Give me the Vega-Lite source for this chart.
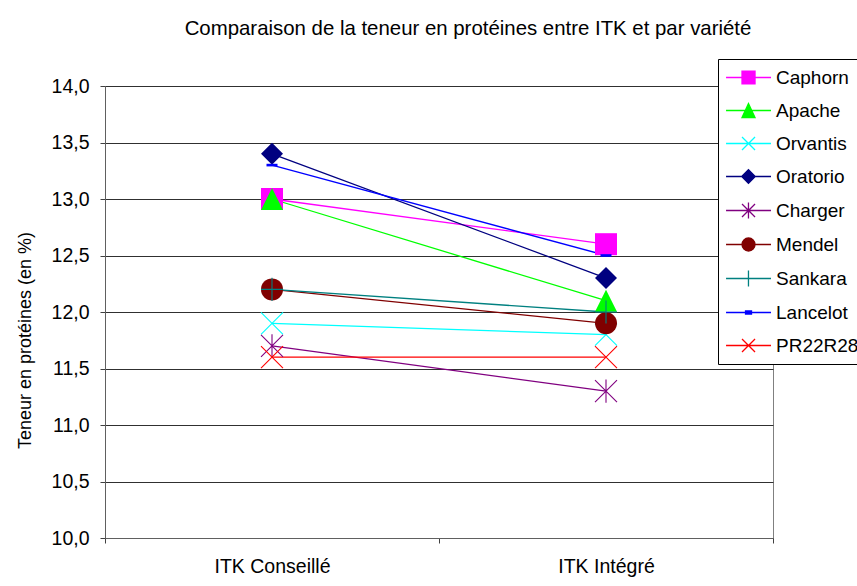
{
  "$schema": "https://vega.github.io/schema/vega-lite/v6.json",
  "width": 668,
  "height": 452,
  "autosize": {"type": "none"},
  "padding": {"left": 105, "top": 86, "right": 84, "bottom": 48},
  "background": "white",
  "title": {
    "text": "Comparaison de la teneur en protéines entre ITK et par variété",
    "font": "Liberation Sans",
    "fontSize": 20.4,
    "fontWeight": "normal",
    "color": "black",
    "anchor": "middle",
    "dx": 29,
    "offset": 19
  },
  "config": {
    "view": {"stroke": "#808080", "strokeWidth": 1},
    "font": "Liberation Sans"
  },
  "data": {
    "values": [
      {"variety": "Caphorn", "itk": "ITK Conseillé", "value": 13.0},
      {"variety": "Caphorn", "itk": "ITK Intégré", "value": 12.6},
      {"variety": "Apache", "itk": "ITK Conseillé", "value": 13.0},
      {"variety": "Apache", "itk": "ITK Intégré", "value": 12.1},
      {"variety": "Orvantis", "itk": "ITK Conseillé", "value": 11.9},
      {"variety": "Orvantis", "itk": "ITK Intégré", "value": 11.8},
      {"variety": "Oratorio", "itk": "ITK Conseillé", "value": 13.4},
      {"variety": "Oratorio", "itk": "ITK Intégré", "value": 12.3},
      {"variety": "Charger", "itk": "ITK Conseillé", "value": 11.7},
      {"variety": "Charger", "itk": "ITK Intégré", "value": 11.3},
      {"variety": "Mendel", "itk": "ITK Conseillé", "value": 12.2},
      {"variety": "Mendel", "itk": "ITK Intégré", "value": 11.9},
      {"variety": "Sankara", "itk": "ITK Conseillé", "value": 12.2},
      {"variety": "Sankara", "itk": "ITK Intégré", "value": 12.0},
      {"variety": "Lancelot", "itk": "ITK Conseillé", "value": 13.3},
      {"variety": "Lancelot", "itk": "ITK Intégré", "value": 12.5},
      {"variety": "PR22R28", "itk": "ITK Conseillé", "value": 11.6},
      {"variety": "PR22R28", "itk": "ITK Intégré", "value": 11.6}
    ]
  },
  "encoding": {
    "x": {
      "field": "itk",
      "type": "nominal",
      "sort": ["ITK Conseillé", "ITK Intégré"],
      "scale": {"type": "band", "paddingInner": 0, "paddingOuter": 0},
      "axis": {
        "title": null,
        "labelAngle": 0,
        "tickBand": "extent",
        "tickSize": 5,
        "tickColor": "#404040",
        "domainColor": "#606060",
        "labelFont": "Liberation Sans",
        "labelFontSize": 19.5,
        "labelColor": "black",
        "labelPadding": 14,
        "grid": false
      }
    },
    "y": {
      "field": "value",
      "type": "quantitative",
      "scale": {"domain": [10, 14], "nice": false, "zero": false},
      "axis": {
        "title": "Teneur en protéines (en %)",
        "values": [10, 10.5, 11, 11.5, 12, 12.5, 13, 13.5, 14],
        "labelExpr": "replace(format(datum.value, '.1f'), '.', ',')",
        "grid": true,
        "gridColor": "#303030",
        "gridWidth": 1,
        "tickSize": 5,
        "tickColor": "#404040",
        "domainColor": "#606060",
        "labelFont": "Liberation Sans",
        "labelFontSize": 19.5,
        "labelColor": "black",
        "labelPadding": 11,
        "titleFont": "Liberation Sans",
        "titleFontSize": 18,
        "titleFontWeight": "normal",
        "titleColor": "black",
        "titleX": -80,
        "titleY": 254,
        "titleBaseline": "middle",
        "titleAlign": "center"
      }
    },
    "color": {
      "field": "variety",
      "type": "nominal",
      "scale": {
        "domain": ["Caphorn", "Apache", "Orvantis", "Oratorio", "Charger", "Mendel", "Sankara", "Lancelot", "PR22R28"],
        "range": ["#FF00FF", "#00FF00", "#00FFFF", "#000080", "#800080", "#800000", "#008080", "#0000FF", "#FF0000"]
      },
      "legend": {
        "title": null,
        "orient": "none",
        "legendX": 613,
        "legendY": -27,
        "fillColor": "white",
        "strokeColor": "black",
        "padding": 8,
        "labelFont": "Liberation Sans",
        "labelFontSize": 19,
        "labelColor": "black",
        "labelOffset": 29,
        "labelLimit": 300,
        "symbolSize": 361,
        "symbolStrokeWidth": 1.3,
        "symbolOpacity": 1,
        "rowPadding": 12
      }
    }
  },
  "layer": [
    {"mark": {"type": "line", "strokeWidth": 1.3}},
    {
      "transform": [{"filter": {"field": "variety", "equal": "Caphorn"}}],
      "mark": {"type": "point", "shape": "square", "filled": true, "size": 484, "opacity": 1}
    },
    {
      "transform": [{"filter": {"field": "variety", "equal": "Apache"}}],
      "mark": {"type": "point", "shape": "M0,-1L1,1L-1,1Z", "filled": true, "size": 484, "opacity": 1}
    },
    {
      "transform": [{"filter": {"field": "variety", "equal": "Orvantis"}}],
      "mark": {"type": "point", "shape": "M-1,-1L1,1M1,-1L-1,1", "filled": false, "size": 484, "strokeWidth": 1.1, "opacity": 1}
    },
    {
      "transform": [{"filter": {"field": "variety", "equal": "Oratorio"}}],
      "mark": {"type": "point", "shape": "diamond", "filled": true, "size": 484, "opacity": 1}
    },
    {
      "transform": [{"filter": {"field": "variety", "equal": "Charger"}}],
      "mark": {"type": "point", "shape": "M-1,-1L1,1M1,-1L-1,1M0,-1.05V1.05", "filled": false, "size": 484, "strokeWidth": 1.1, "opacity": 1}
    },
    {
      "transform": [{"filter": {"field": "variety", "equal": "Mendel"}}],
      "mark": {"type": "point", "shape": "circle", "filled": true, "size": 484, "opacity": 1}
    },
    {
      "transform": [{"filter": {"field": "variety", "equal": "Sankara"}}],
      "mark": {"type": "point", "shape": "M-1,0H1M0,-1.05V1.05", "filled": false, "size": 484, "strokeWidth": 1.1, "opacity": 1}
    },
    {
      "transform": [{"filter": {"field": "variety", "equal": "Lancelot"}}],
      "mark": {"type": "point", "shape": "M-0.5,-0.12H0.5V0.12H-0.5Z", "filled": true, "size": 484, "opacity": 1}
    },
    {
      "transform": [{"filter": {"field": "variety", "equal": "PR22R28"}}],
      "mark": {"type": "point", "shape": "M-1,-1L1,1M1,-1L-1,1", "filled": false, "size": 484, "strokeWidth": 1.1, "opacity": 1}
    },
    {
      "mark": {"type": "point", "filled": true, "opacity": 0, "size": 0},
      "encoding": {
        "shape": {
          "field": "variety",
          "type": "nominal",
          "scale": {
            "domain": ["Caphorn", "Apache", "Orvantis", "Oratorio", "Charger", "Mendel", "Sankara", "Lancelot", "PR22R28"],
            "range": [
              "M-1.1,0H3.63M0.58,-0.68H1.95V0.68H0.58Z",
              "M-1.1,0H3.63M1.26,-0.74L1.95,0.74H0.58Z",
              "M-1.1,0H3.63M0.58,-0.68L1.95,0.68M1.95,-0.68L0.58,0.68",
              "M-1.1,0H3.63M0.55,0L1.26,-0.71L1.97,0L1.26,0.71Z",
              "M-1.1,0H3.63M0.58,-0.68L1.95,0.68M1.95,-0.68L0.58,0.68M1.26,-0.84V0.84",
              "M-1.1,0H3.63M1.95,0A0.68,0.68,0,1,1,0.58,0A0.68,0.68,0,1,1,1.95,0Z",
              "M-1.1,0H3.63M1.26,-0.84V0.84",
              "M-1.1,0H3.63M0.95,-0.16H1.58V0.16H0.95Z",
              "M-1.1,0H3.63M0.58,-0.68L1.95,0.68M1.95,-0.68L0.58,0.68"
            ]
          },
          "legend": null
        }
      }
    }
  ]
}
